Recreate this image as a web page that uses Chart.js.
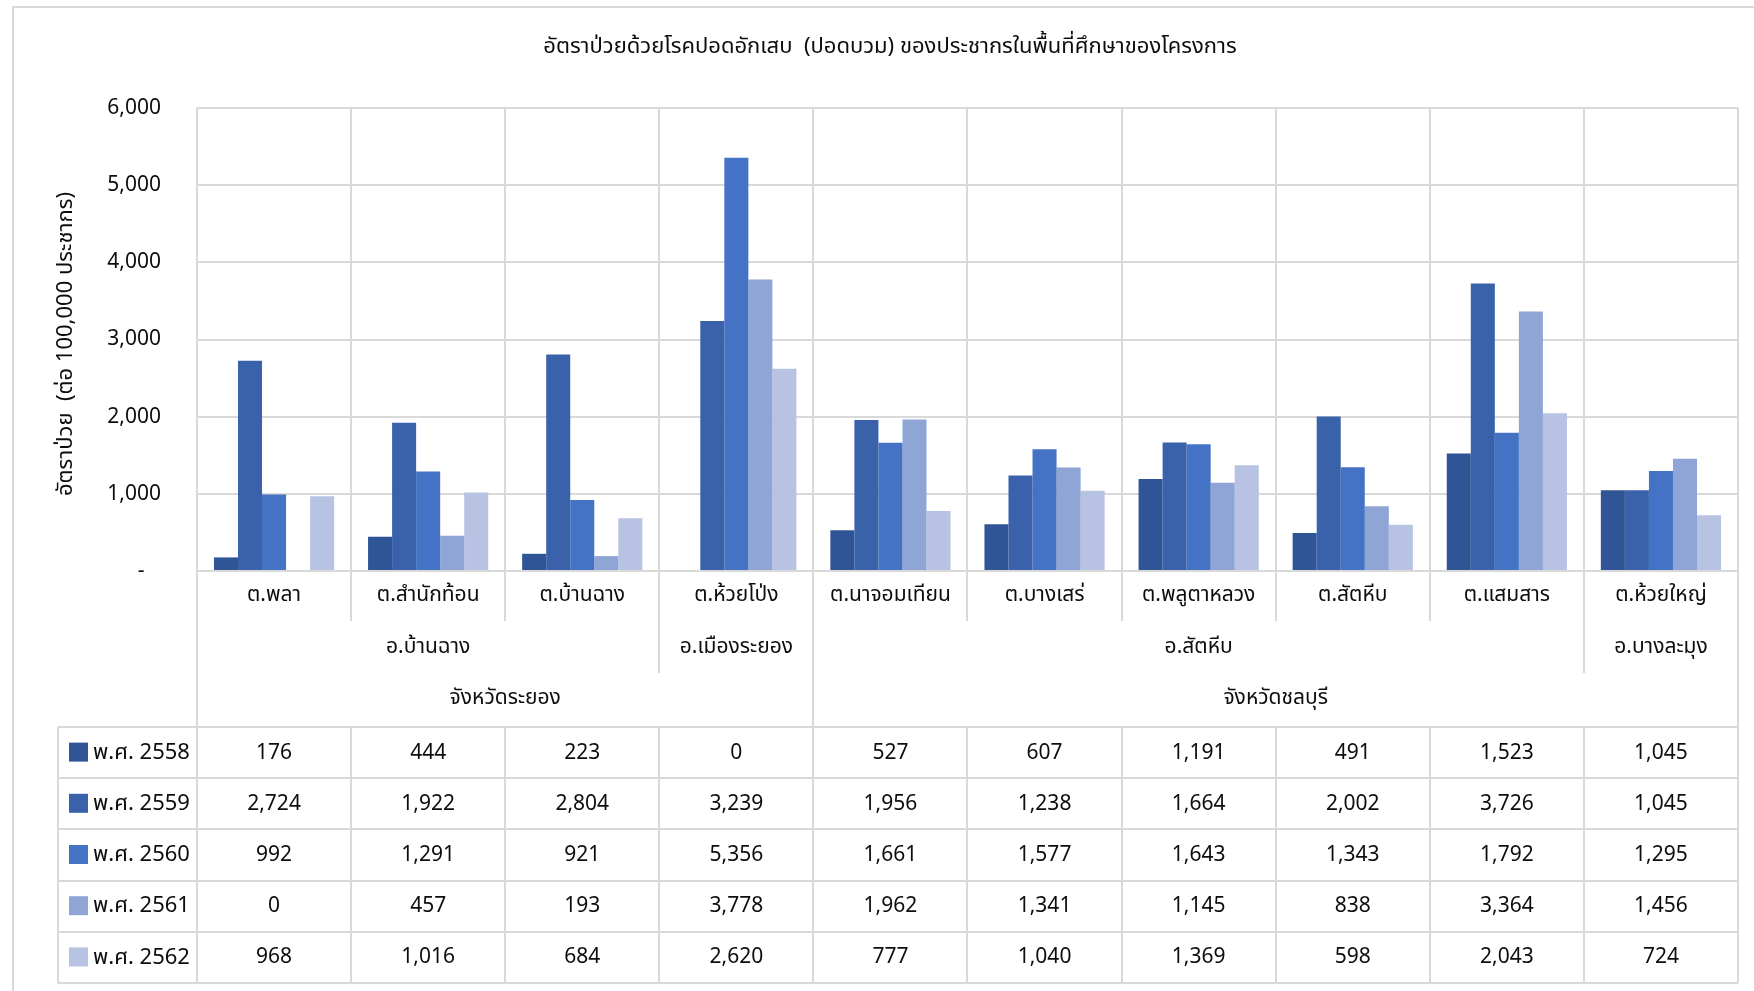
<!DOCTYPE html>
<html>
<head>
<meta charset="utf-8">
<script src="https://cdn.jsdelivr.net/npm/chart.js@4/dist/chart.umd.min.js"></script>
<style>
  html, body { margin: 0; padding: 0; background: #ffffff; }
  canvas { display: block; }
</style>
</head>
<body>
<canvas id="chart" width="1754" height="991"></canvas>
<script>
// Sub-districts (ตำบล) with their district (อำเภอ) and province (จังหวัด)
const subdistricts = ['ต.พลา', 'ต.สำนักท้อน', 'ต.บ้านฉาง', 'ต.ห้วยโป่ง', 'ต.นาจอมเทียน',
                      'ต.บางเสร่', 'ต.พลูตาหลวง', 'ต.สัตหีบ', 'ต.แสมสาร', 'ต.ห้วยใหญ่'];
const districts = ['อ.บ้านฉาง', 'อ.บ้านฉาง', 'อ.บ้านฉาง', 'อ.เมืองระยอง', 'อ.สัตหีบ',
                   'อ.สัตหีบ', 'อ.สัตหีบ', 'อ.สัตหีบ', 'อ.สัตหีบ', 'อ.บางละมุง'];
const provinces = ['จังหวัดระยอง', 'จังหวัดระยอง', 'จังหวัดระยอง', 'จังหวัดระยอง', 'จังหวัดชลบุรี',
                   'จังหวัดชลบุรี', 'จังหวัดชลบุรี', 'จังหวัดชลบุรี', 'จังหวัดชลบุรี', 'จังหวัดชลบุรี'];

// Pneumonia rate per 100,000 population, by Buddhist-era year
const years = ['พ.ศ. 2558', 'พ.ศ. 2559', 'พ.ศ. 2560', 'พ.ศ. 2561', 'พ.ศ. 2562'];
const rate2558 = [176, 444, 223, 0, 527, 607, 1191, 491, 1523, 1045];
const rate2559 = [2724, 1922, 2804, 3239, 1956, 1238, 1664, 2002, 3726, 1045];
const rate2560 = [992, 1291, 921, 5356, 1661, 1577, 1643, 1343, 1792, 1295];
const rate2561 = [0, 457, 193, 3778, 1962, 1341, 1145, 838, 3364, 1456];
const rate2562 = [968, 1016, 684, 2620, 777, 1040, 1369, 598, 2043, 724];

const yTicks = [0, 1000, 2000, 3000, 4000, 5000, 6000];

const titleText = 'อัตราป่วยด้วยโรคปอดอักเสบ  (ปอดบวม) ของประชากรในพื้นที่ศึกษาของโครงการ';
const yTitleText = 'อัตราป่วย  (ต่อ 100,000 ประชากร)';

const seriesValues = [rate2558, rate2559, rate2560, rate2561, rate2562];
const seriesColors = ['#2F5597', '#3A62AB', '#4472C4', '#8FA5D6', '#B8C3E3'];

const FONT = "'Noto Sans', 'Noto Sans Thai', Tahoma, Loma, Garuda, Waree, 'DejaVu Sans', sans-serif";
const TEXT = '#0d0d0d';
const LINE = '#D9D9D9';

const fmt = v => v.toLocaleString('en-US');

// Multi-level category axis, data table, titles and frame
const decorations = {
  id: 'decorations',
  beforeDatasetsDraw(chart) {
    const { ctx, chartArea, scales } = chart;
    const x = scales.x;
    const base = chartArea.bottom;
    const cw = x.getPixelForValue(1) - x.getPixelForValue(0);
    const band = 51.2;
    const lvl1End = base + 50, lvl2End = base + 102, tableTop = base + 156;
    const tableBottom = tableTop + band * years.length;
    const tableLeft = 58;

    ctx.save();
    ctx.strokeStyle = LINE;
    ctx.lineWidth = 2;

    // outer frame of the chart object
    ctx.beginPath();
    ctx.moveTo(13, 991); ctx.lineTo(13, 7); ctx.lineTo(1754, 7);
    ctx.stroke();

    // vertical separators, category axis tiers and table columns
    const n = subdistricts.length;
    for (let i = 0; i <= n; i++) {
      const bx = Math.round(x.getPixelForValue(0) - cw / 2 + i * cw);
      let end;
      if (i === 0 || i === n) end = tableBottom;
      else if (provinces[i - 1] !== provinces[i]) end = tableTop;
      else if (districts[i - 1] !== districts[i]) end = lvl2End;
      else end = lvl1End;
      ctx.beginPath();
      ctx.moveTo(bx, chartArea.top);
      ctx.lineTo(bx, end);
      ctx.moveTo(bx, tableTop);
      ctx.lineTo(bx, tableBottom);
      ctx.stroke();
    }

    // table rows and left edge
    ctx.beginPath();
    for (let r = 0; r <= years.length; r++) {
      const yy = Math.round(tableTop + r * band);
      ctx.moveTo(tableLeft, yy);
      ctx.lineTo(chartArea.right, yy);
    }
    ctx.moveTo(tableLeft, tableTop);
    ctx.lineTo(tableLeft, tableBottom);
    ctx.stroke();
    ctx.restore();
  },
  afterDraw(chart) {
    const { ctx, chartArea, scales } = chart;
    const x = scales.x;
    const base = chartArea.bottom;
    const band = 51.2;
    const tableTop = base + 156;

    ctx.save();
    ctx.fillStyle = TEXT;
    ctx.textBaseline = 'middle';
    ctx.textAlign = 'center';

    // chart title
    ctx.font = `22px ${FONT}`;
    ctx.fillText(titleText, 890, 47);

    // value axis title
    ctx.save();
    ctx.translate(66, 344);
    ctx.rotate(-Math.PI / 2);
    ctx.font = `22px ${FONT}`;
    ctx.fillText(yTitleText, 0, 0);
    ctx.restore();

    // tier 1: sub-districts
    ctx.font = `21px ${FONT}`;
    subdistricts.forEach((s, i) => ctx.fillText(s, x.getPixelForValue(i), base + 24));

    // tiers 2 and 3: districts and provinces, centred over their runs
    const drawGroups = (labels, yy) => {
      let start = 0;
      for (let i = 1; i <= labels.length; i++) {
        if (i === labels.length || labels[i] !== labels[start]) {
          const cx = (x.getPixelForValue(start) + x.getPixelForValue(i - 1)) / 2;
          ctx.fillText(labels[start], cx, yy);
          start = i;
        }
      }
    };
    drawGroups(districts, base + 76);
    drawGroups(provinces, base + 127);

    // data table with legend keys
    years.forEach((yr, r) => {
      const cy = tableTop + band * r + band / 2;
      ctx.fillStyle = seriesColors[r];
      ctx.fillRect(69, cy - 10, 19, 19);
      ctx.fillStyle = TEXT;
      ctx.textAlign = 'left';
      ctx.font = `22px ${FONT}`;
      ctx.fillText(yr, 93, cy);
      ctx.textAlign = 'center';
      ctx.font = `21px ${FONT}`;
      seriesValues[r].forEach((v, i) => ctx.fillText(fmt(v), x.getPixelForValue(i), cy));
    });
    ctx.restore();
  }
};

new Chart(document.getElementById('chart'), {
  type: 'bar',
  data: {
    labels: subdistricts,
    datasets: years.map((yr, k) => ({
      label: yr,
      data: seriesValues[k],
      backgroundColor: seriesColors[k],
      borderWidth: 0,
      categoryPercentage: 0.78,
      barPercentage: 1.0
    }))
  },
  options: {
    responsive: false,
    devicePixelRatio: 1,
    animation: false,
    layout: { padding: { top: 108, right: 16, bottom: 420, left: 0 } },
    plugins: {
      legend: { display: false },
      title: { display: false },
      tooltip: { enabled: false }
    },
    scales: {
      x: { display: false },
      y: {
        min: 0,
        max: 6000,
        afterBuildTicks(scale) { scale.ticks = yTicks.map(v => ({ value: v })); },
        afterFit(scale) { scale.width = 197; },
        border: { display: false },
        grid: { color: LINE, lineWidth: 2, drawTicks: false },
        ticks: {
          padding: 36,
          color: TEXT,
          font: { family: FONT, size: 21 },
          callback: v => (v === 0 ? '-   ' : fmt(v))
        }
      }
    }
  },
  plugins: [decorations]
});
</script>
</body>
</html>
